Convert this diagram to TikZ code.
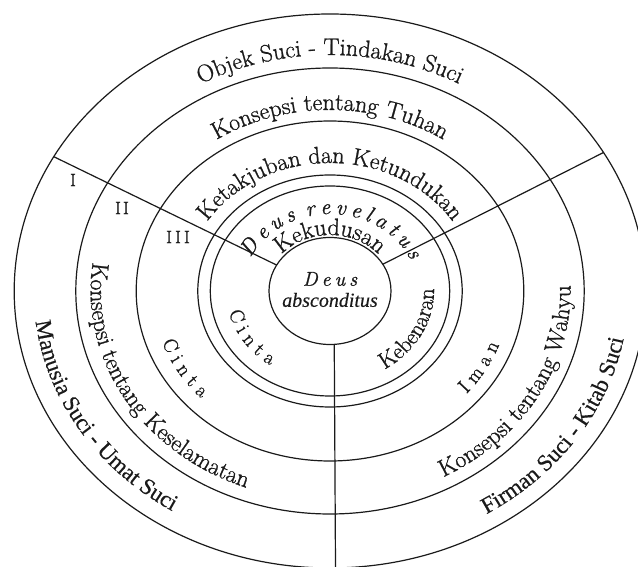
\documentclass[tikz,border=0pt]{standalone}
\usepackage{fontspec}
\setmainfont{Latin Modern Roman}[FakeBold=1]
\newfontfamily\timesf{Liberation Serif}[FakeBold=0.3]
\usetikzlibrary{decorations.text}
\definecolor{ink}{HTML}{1A1A1A}
\newcommand\fbig{\fontsize{24}{28}\selectfont\color{ink}}
\newcommand\fmid{\fontsize{20}{24}\selectfont\color{ink}}
\newcommand\fkeb{\fontsize{23}{27}\selectfont\color{ink}}
\newcommand\fkek{\fontsize{24}{28}\selectfont\color{ink}}
\newcommand\fdeus{\fontsize{22}{26}\selectfont\itshape\color{ink}}
\newcommand\ftimes{\timesf\fontsize{23}{27}\selectfont\color{ink}}
\newcommand\gp{\kern4.8pt}
\begin{document}
\begin{tikzpicture}[x=1pt,y=1pt,
  ring/.style={draw=ink, line width=1.2pt},
  divider/.style={draw=ink, line width=1.2pt},
  numeral/.style={text=ink, font=\fontsize{18}{21}\selectfont, inner sep=0pt},
  centertext/.style={text=ink, inner sep=0pt},
  curved/.style={decorate, decoration={text along path, text align=center, text={#1}}}]
\useasboundingbox (-330,-276) rectangle (308,291);
\fill[white] (-330,-276) rectangle (308,291);
\coordinate (c) at (0,0);
% rings
\draw[ring] (c) ellipse [x radius=315.8, y radius=277];
\draw[ring] (c) ellipse [x radius=254.2, y radius=223];
\draw[ring] (c) ellipse [x radius=193.8, y radius=170];
\draw[ring] (c) ellipse [x radius=132.2, y radius=116];
\draw[ring] (c) ellipse [x radius=119.7, y radius=105];
\draw[ring] (c) ellipse [x radius=61, y radius=53.5];
% dividers
\coordinate (l1i) at (151:61 and 53.5);
\coordinate (l1o) at (151:315.8 and 277);
\coordinate (l2i) at (30:61 and 53.5);
\coordinate (l2o) at (30:315.8 and 277);
\coordinate (l3i) at (274:61 and 53.5);
\coordinate (l3o) at (271:315.8 and 277);
\draw[divider] (l1i) -- (l1o);
\draw[divider] (l2i) -- (l2o);
\draw[divider] (l3i) -- (l3o);
% upper labels (clockwise)
\path[curved={|\fbig|Objek Suci - Tindakan Suci}]
  (170:269 and 236) arc[start angle=170, end angle=10, x radius=269, y radius=236];
\path[curved={|\fbig|Konsepsi tentang Tuhan}]
  (170:206.3 and 181) arc[start angle=170, end angle=10, x radius=206.3, y radius=181];
\path[curved={|\fbig|Ketakjuban dan Ketundukan}]
  (178:146 and 128) arc[start angle=178, end angle=2, x radius=146, y radius=128];
\path[curved={|\fdeus|D{\gp}e{\gp}u{\gp}s{\kern11pt}r{\gp}e{\gp}v{\gp}e{\gp}l{\gp}a{\gp}t{\gp}u{\gp}s}]
  (185:88 and 77) arc[start angle=185, end angle=-7, x radius=88, y radius=77];
\path[curved={|\fkek|Kekudusan}]
  (160:64 and 56) arc[start angle=160, end angle=20, x radius=64, y radius=56];
% lower labels (counter-clockwise)
\path[curved={|\fmid|C i n t a}]
  (152:104 and 91) arc[start angle=152, end angle=272, x radius=104, y radius=91];
\path[curved={|\fkeb|Kebenaran}]
  (-87:104 and 92) arc[start angle=-87, end angle=33, x radius=104, y radius=92];
\path[curved={|\fmid|C i n t a}]
  (149:177.8 and 156) arc[start angle=149, end angle=269, x radius=177.8, y radius=156];
\path[curved={|\fmid|I m a n}]
  (-88:180 and 158) arc[start angle=-88, end angle=32, x radius=180, y radius=158];
\path[curved={|\fbig|Konsepsi tentang Keselamatan}]
  (129:239.4 and 210) arc[start angle=129, end angle=289, x radius=239.4, y radius=210];
\path[curved={|\fbig|Konsepsi tentang Wahyu}]
  (-108:240.5 and 211) arc[start angle=-108, end angle=52, x radius=240.5, y radius=211];
\path[curved={|\ftimes|Manusia Suci - Umat Suci}]
  (140:296.4 and 260) arc[start angle=140, end angle=280, x radius=296.4, y radius=260];
\path[curved={|\ftimes|Firman Suci - Kitab Suci}]
  (-102:298.7 and 262) arc[start angle=-102, end angle=38, x radius=298.7, y radius=262];
% numerals
\node[numeral] (n1) at (-257,111) {I};
\node[numeral] (n2) at (-208,83) {I\kern2pt I};
\node[numeral] (n3) at (-152,54) {I\kern3pt I\kern3pt I};
% centre
\node[centertext, font=\fontsize{20}{24}\selectfont\itshape] (deus) at (0,12) {D\kern4pt e\kern4pt u\kern4pt s};
\node[centertext, font=\timesf\itshape\fontsize{20}{24}\selectfont] (absc) at (0,-9) {absconditus};
\end{tikzpicture}
\end{document}
